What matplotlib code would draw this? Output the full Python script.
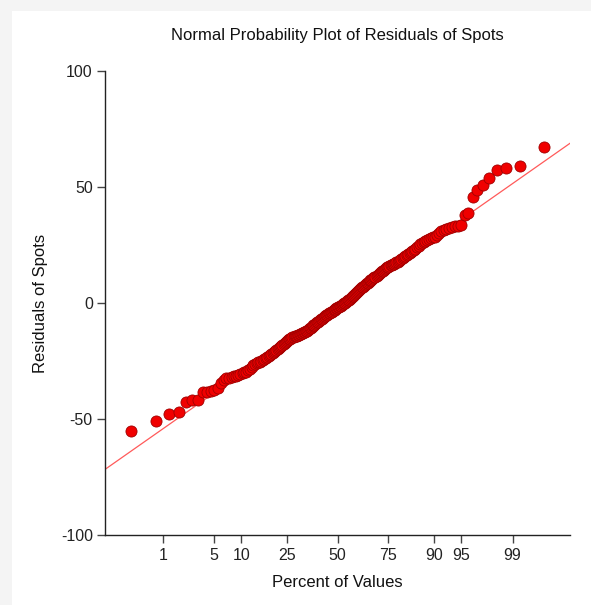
import matplotlib
matplotlib.use('Agg')
import matplotlib.pyplot as plt
import matplotlib.patches as mpatches
import numpy as np
from statistics import NormalDist

# sorted residuals of Spots (n = 210)
residuals = [
    -55.2, -50.9, -47.9, -47.0, -42.7, -41.6, -41.6, -38.4, -38.1, -37.9,
    -37.6, -36.4, -34.3, -33.2, -32.5, -32.1, -31.8, -31.5, -31.3, -31.0,
    -30.7, -30.3, -29.9, -29.5, -28.9, -28.2, -27.5, -26.9, -26.3, -25.9,
    -25.6, -25.2, -24.9, -24.6, -24.2, -23.7, -23.3, -22.9, -22.5, -22.0,
    -21.6, -21.1, -20.7, -20.3, -19.9, -19.4, -19.0, -18.5, -18.1, -17.6,
    -17.2, -16.8, -16.4, -16.1, -15.7, -15.4, -15.1, -14.8, -14.6, -14.4,
    -14.2, -14.0, -13.8, -13.6, -13.4, -13.2, -13.0, -12.8, -12.6, -12.4,
    -12.2, -12.0, -11.7, -11.3, -10.9, -10.6, -10.2, -9.9, -9.6, -9.3,
    -9.0, -8.7, -8.3, -8.0, -7.6, -7.3, -7.0, -6.7, -6.4, -6.1,
    -5.8, -5.5, -5.3, -5.0, -4.8, -4.5, -4.2, -3.9, -3.7, -3.4,
    -3.1, -2.8, -2.6, -2.3, -2.1, -1.8, -1.6, -1.3, -1.1, -0.8,
    -0.6, -0.4, -0.1, 0.2, 0.5, 0.8, 1.2, 1.5, 1.8, 2.1,
    2.4, 2.8, 3.2, 3.6, 4.0, 4.4, 4.8, 5.2, 5.6, 6.0,
    6.3, 6.7, 7.0, 7.4, 7.7, 8.1, 8.4, 8.8, 9.1, 9.5,
    9.8, 10.1, 10.4, 10.7, 11.0, 11.4, 11.8, 12.2, 12.6, 12.9,
    13.3, 13.6, 13.9, 14.3, 14.7, 15.0, 15.4, 15.7, 16.0, 16.3,
    16.5, 16.8, 17.0, 17.2, 17.5, 17.7, 18.1, 18.6, 19.0, 19.4,
    19.9, 20.3, 20.7, 21.1, 21.5, 21.8, 22.2, 22.8, 23.4, 24.1,
    24.7, 25.3, 25.9, 26.4, 26.9, 27.3, 27.6, 27.9, 28.2, 28.5,
    29.3, 30.0, 30.8, 31.5, 32.0, 32.5, 32.8, 33.0, 33.2, 33.4,
    37.9, 38.9, 45.6, 48.8, 50.9, 53.9, 57.1, 58.1, 58.9, 67.3,
]
pct_ticks = [1, 5, 10, 25, 50, 75, 90, 95, 99]
y_ticks = [-100, -50, 0, 50, 100]
# reference line (intercept, slope in normal-score units)
line_intercept = -1.4
line_slope = 22.7

nd = NormalDist()
n = len(residuals)
# Blom plotting positions
zs = np.array([nd.inv_cdf((i - 0.375) / (n + 0.25)) for i in range(1, n + 1)])
ys = np.array(residuals)

plt.rcParams['font.family'] = ['Liberation Sans', 'DejaVu Sans']

fig = plt.figure(figsize=(5.91, 6.05), dpi=100, facecolor='#f4f4f4')
fig.patches.append(mpatches.Rectangle((12/591, 0), 1, (605-11)/605, transform=fig.transFigure,
                                      facecolor='white', edgecolor='none', zorder=-10))
ax = fig.add_axes([105.3/591, 1-535.3/605, (570-105.3)/591, (535.3-70.7)/605])
ax.set_facecolor('none')

zlim = nd.inv_cdf(0.999)
ax.set_xlim(-zlim, zlim)
ax.set_ylim(-100, 100)

lx = np.array([-zlim, zlim])
ax.plot(lx, line_intercept + line_slope*lx, color='#ff5a5a', lw=0.9, zorder=2)
ax.plot(zs, ys, 'o', ms=8, mfc='#f00000', mec='#a00000', mew=0.6, zorder=3, clip_on=False)

ax.set_xticks([nd.inv_cdf(p/100) for p in pct_ticks])
ax.set_xticklabels([str(p) for p in pct_ticks])
ax.set_yticks(y_ticks)
ax.set_yticklabels([str(v) for v in y_ticks])

for s in ['top', 'right']:
    ax.spines[s].set_visible(False)
for s in ['left', 'bottom']:
    ax.spines[s].set_color('#222222')
    ax.spines[s].set_linewidth(1.0)
ax.tick_params(direction='out', length=6, width=1.0, color='#444444', labelsize=11.5,
               labelcolor='#222222', pad=3)

ax.set_title('Normal Probability Plot of Residuals of Spots', fontsize=12, color='#111111', pad=22)
ax.set_xlabel('Percent of Values', fontsize=12, color='#111111', labelpad=9)
ax.set_ylabel('Residuals of Spots', fontsize=12, color='#111111', labelpad=9)

fig.savefig('out.png', dpi=100, facecolor=fig.get_facecolor())
